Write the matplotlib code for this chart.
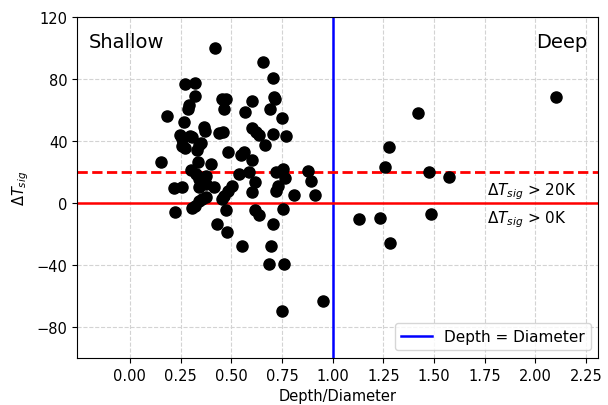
import matplotlib.pyplot as plt

# shallow craters (depth/diameter < 1)
shallow_x = [0.419, 0.655, 0.708, 0.271, 0.319, 0.319, 0.709, 0.716, 0.452, 0.476,
             0.602, 0.293, 0.288, 0.463, 0.567, 0.693, 0.181, 0.750, 0.269, 0.363,
             0.368, 0.437, 0.457, 0.603, 0.623, 0.635, 0.704, 0.769, 0.245, 0.258,
             0.294, 0.304, 0.258, 0.274, 0.340, 0.353, 0.332, 0.486, 0.550, 0.562,
             0.603, 0.665, 0.151, 0.337, 0.402, 0.299, 0.324, 0.340, 0.373, 0.537,
             0.586, 0.616, 0.600, 0.718, 0.754, 0.764, 0.731, 0.718, 0.808, 0.879,
             0.895, 0.911, 0.217, 0.257, 0.343, 0.373, 0.417, 0.504, 0.486, 0.463,
             0.455, 0.373, 0.357, 0.340, 0.304, 0.320, 0.220, 0.474, 0.616, 0.635,
             0.754, 0.431, 0.480, 0.704, 0.552, 0.698, 0.685, 0.759, 0.951, 0.751]
shallow_y = [99.6, 91.2, 80.3, 76.8, 77.1, 69.1, 68.6, 66.7, 67.3, 66.7,
             65.7, 63.0, 60.8, 60.4, 58.9, 60.8, 56.1, 54.7, 52.3, 49.0,
             46.1, 44.9, 45.6, 48.1, 45.7, 43.5, 44.5, 43.1, 43.5, 41.4,
             43.1, 42.5, 37.0, 35.1, 37.5, 38.8, 34.4, 32.7, 31.0, 33.1,
             27.9, 37.1, 26.6, 26.4, 25.1, 21.4, 18.6, 15.4, 17.5, 18.6,
             19.9, 13.2, 7.3, 19.7, 21.9, 15.8, 11.0, 7.8, 5.0, 20.8,
             14.3, 5.0, 9.4, 10.2, 10.0, 12.1, 10.5, 11.0, 7.8, 4.5,
             2.4, 3.9, 2.4, 1.3, -3.0, -2.3, -6.0, -4.4, -4.3, -7.7,
             -4.1, -13.8, -18.8, -13.8, -27.5, -27.5, -39.2, -39.6, -63.2, -69.5]

# deep craters (depth/diameter > 1)
deep_x = [2.102, 1.422, 1.276, 1.256, 1.473, 1.575, 1.132, 1.235, 1.485, 1.284]
deep_y = [68.2, 58.2, 36.0, 23.4, 20.1, 16.5, -10.1, -9.5, -7.3, -25.7]

x = shallow_x + deep_x
y = shallow_y + deep_y

fig, ax = plt.subplots(figsize=(6.08, 4.06), dpi=100)
fig.subplots_adjust(left=0.127, right=0.984, bottom=0.116, top=0.956)

ax.grid(True, linestyle='--', color='lightgray', linewidth=0.8, zorder=0)
ax.scatter(x, y, s=64, color='black', zorder=3)

ax.axvline(1.0, color='blue', linewidth=1.8, label='Depth = Diameter', zorder=2)
ax.axhline(0, color='red', linewidth=1.8, zorder=2)
ax.axhline(20, color='red', linewidth=2, linestyle='--', zorder=2)

ax.text(-0.205, 104, 'Shallow', fontsize=14, va='center', ha='left')
ax.text(2.258, 104, 'Deep', fontsize=14, va='center', ha='right')
ax.text(1.76, 8, r'$\Delta T_{sig}$ > 20K', fontsize=11, va='center')
ax.text(1.76, -10.5, r'$\Delta T_{sig}$ > 0K', fontsize=11, va='center')

ax.set_xlim(-0.26, 2.31)
ax.set_ylim(-100, 120)
ax.set_xticks([0.0, 0.25, 0.5, 0.75, 1.0, 1.25, 1.5, 1.75, 2.0, 2.25])
ax.set_yticks([-80, -40, 0, 40, 80, 120])
ax.tick_params(labelsize=10.5)
ax.set_xlabel('Depth/Diameter', fontsize=10.5)
ax.set_ylabel(r'$\Delta T_{sig}$', fontsize=10.5)
ax.legend(loc='lower right', fontsize=11)

fig.savefig('out.png', dpi=100)
